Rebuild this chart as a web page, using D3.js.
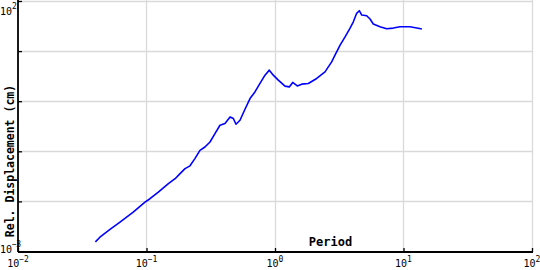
<!DOCTYPE html>
<html><head><meta charset="utf-8">
<script src="https://cdn.jsdelivr.net/npm/d3@7"></script>
<style>html,body{margin:0;padding:0;background:#fff;}svg{display:block;}</style>
</head><body>
<script>
const period = [0.0400,0.0434,0.0520,0.0622,0.0788,0.0973,0.1064,0.1236,0.148,0.167,0.180,0.1995,0.218,0.238,0.2606,0.285,0.312,0.341,0.373,0.408,0.447,0.474,0.497,0.534,0.584,0.639,0.698,0.764,0.836,0.903,0.970,1.061,1.196,1.292,1.373,1.491,1.614,1.816,2.11,2.45,2.76,2.93,3.21,3.51,3.83,4.07,4.32,4.53,4.73,5.17,5.49,5.82,6.56,7.40,8.33,9.39,11.2,12.7,13.9];
const displacement = [0.00156,0.00193,0.00275,0.00386,0.00611,0.00968,0.0113,0.0153,0.0226,0.0284,0.0347,0.0451,0.0513,0.0715,0.1047,0.122,0.1535,0.226,0.331,0.358,0.485,0.451,0.347,0.417,0.692,1.13,1.53,2.26,3.31,4.17,3.31,2.63,2.0,1.93,2.37,2.02,2.19,2.26,2.84,3.85,6.11,8.32,13.2,19.3,28.4,38.5,56.8,64.0,52.5,50.8,43.7,34.7,30.6,27.9,28.8,30.6,30.6,28.8,27.5];
const xTicks = [0.01,0.1,1,10,100];
const xTickExp = ["−2","−1","0","1","2"];
const yTicks = [0.001,0.01,0.1,1,10,100];
const yLabelTicks = [100,0.001];
const yLabelExp = ["2","−3"];
const xTitle = "Period";
const yTitle = "Rel. Displacement (cm)";

const W=540,H=270;
const svg=d3.select("body").append("svg").attr("width",W).attr("height",H);
const x=d3.scaleLog().domain([0.01,100]).range([18,532]);
const y=d3.scaleLog().domain([0.001,100]).range([251.5,1]);
const font="'DejaVu Sans Mono', monospace";

// grid
svg.append("g").selectAll("line").data(xTicks.slice(1)).join("line")
  .attr("x1",d=>Math.round(x(d))+0.5).attr("x2",d=>Math.round(x(d))+0.5)
  .attr("y1",0).attr("y2",251).attr("stroke","#d9d9d9").attr("stroke-width",1.3);
svg.append("g").selectAll("line").data(yTicks.slice(1)).join("line")
  .attr("x1",18).attr("x2",533).attr("y1",d=>Math.round(y(d))+0.5).attr("y2",d=>Math.round(y(d))+0.5)
  .attr("stroke","#d9d9d9").attr("stroke-width",1.3);

// axes
const xa=svg.append("g").attr("transform","translate(0,252)")
  .call(d3.axisBottom(x).tickValues(xTicks).tickSize(-4).tickFormat(""));
const ya=svg.append("g").attr("transform","translate(18,0)")
  .call(d3.axisLeft(y).tickValues(yTicks).tickSize(-4).tickFormat(""));
[xa,ya].forEach(a=>{a.select(".domain").attr("stroke","#000").attr("stroke-width",1.8);
  a.selectAll(".tick line").attr("stroke","#000").attr("stroke-width",1.3);});
xa.select(".domain").attr("d","M18,0H533");
ya.select(".domain").attr("d","M0,0V252");

// x tick labels
const xl=svg.append("g").selectAll("text").data(xTicks).join("text")
  .attr("x",d=>x(d)).attr("y",267).attr("text-anchor","middle")
  .attr("font-family",font).attr("font-size",10).attr("fill","#000");
xl.append("tspan").text("10");
xl.append("tspan").attr("dy",-5).attr("font-size",8).text((d,i)=>xTickExp[i]);

// y tick labels
const yl=svg.append("g").selectAll("text").data(yLabelTicks).join("text")
  .attr("x",0).attr("y",(d,i)=> i===0 ? y(d)+14 : y(d)+1).attr("text-anchor","start")
  .attr("font-family",font).attr("font-size",10).attr("fill","#000");
yl.append("tspan").text("10");
yl.append("tspan").attr("dy",-6).attr("font-size",8).attr("letter-spacing",-0.6).text((d,i)=>yLabelExp[i]);

// titles
svg.append("text").attr("x",330.5).attr("y",246).attr("text-anchor","middle")
  .attr("font-family",font).attr("font-weight","bold").attr("font-size",12).text(xTitle);
svg.append("text").attr("transform","translate(14,161) rotate(-90)").attr("text-anchor","middle")
  .attr("font-family",font).attr("font-weight","bold").attr("font-size",11.5).text(yTitle);

// line
const pts=period.map((p,i)=>[p,displacement[i]]);
svg.append("path").datum(pts).attr("fill","none").attr("stroke","#0000ff").attr("stroke-width",1.6)
  .attr("stroke-linejoin","round")
  .attr("d",d3.line().x(d=>x(d[0])).y(d=>y(d[1])));
</script>
</body></html>
